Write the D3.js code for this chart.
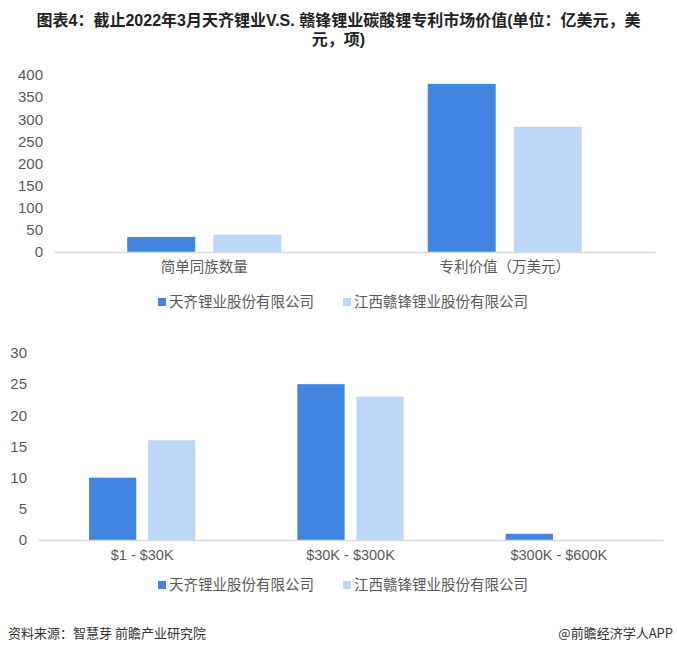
<!DOCTYPE html>
<html>
<head>
<meta charset="utf-8">
<script src="https://cdn.jsdelivr.net/npm/d3@7"></script>
<style>
  body { margin: 0; background: #fff; }
  svg text { font-family: "Liberation Sans", "Noto Sans CJK SC", sans-serif; }
</style>
</head>
<body>
<div id="chart"></div>
<script>
// data
var series = ["天齐锂业股份有限公司", "江西赣锋锂业股份有限公司"]
var topCats = ["简单同族数量", "专利价值（万美元）"]
var topTianqi = [34, 380]
var topGanfeng = [39, 283]
var topTicks = [0, 50, 100, 150, 200, 250, 300, 350, 400]

var botCats = ["$1 - $30K", "$30K - $300K", "$300K - $600K"]
var botTianqi = [10, 25, 1]
var botGanfeng = [16, 23, 0]
var botTicks = [0, 5, 10, 15, 20, 25, 30]

var titleLines = ["图表4：截止2022年3月天齐锂业V.S. 赣锋锂业碳酸锂专利市场价值(单位：亿美元，美", "元，项)"]
var sourceText = "资料来源：智慧芽 前瞻产业研究院"
var brandText = "@前瞻经济学人APP"

var colors = ["#4286e2", "#bcd7f9"]
var width = 677, height = 654
var textColor = "#595959"

var svg = d3.select("#chart")
  .append("svg")
  .attr("width", width)
  .attr("height", height)

// title, two lines
svg.append("g")
  .selectAll("text")
  .data(titleLines)
  .enter()
  .append("text")
  .attr("x", width / 2)
  .attr("y", (d, i) => 26 + i * 18.5)
  .attr("text-anchor", "middle")
  .style("font-family", "'Liberation Sans', 'Noto Sans CJK SC', sans-serif")
  .style("font-weight", "bold")
  .style("font-size", "16px")
  .style("fill", "#222")
  .text(d => d)

function drawChart(opt) {
  var rows = opt.cats.map((c, i) => ({ cat: c, vals: [opt.a[i], opt.b[i]] }))

  var x0 = d3.scaleBand()
    .domain(opt.cats)
    .range([opt.left, opt.right])
    .padding(0)

  var x1 = d3.scaleBand()
    .domain([0, 1])
    .range([0, x0.bandwidth()])
    .paddingInner(opt.pin)
    .paddingOuter(opt.pout)

  var y = d3.scaleLinear()
    .domain([0, opt.max])
    .range([opt.bottom, opt.top])

  // Y axis labels
  var yAxis = d3.axisLeft(y)
    .tickValues(opt.ticks)
    .tickSize(0)
    .tickPadding(11)

  svg.append("g")
    .attr("transform", `translate(${opt.left},0)`)
    .call(yAxis)
    .call(g => g.select(".domain").remove())
    .selectAll("text")
    .style("font-size", "15px")
    .style("fill", textColor)

  // bars
  var groups = svg.append("g")
    .selectAll("g")
    .data(rows)
    .enter()
    .append("g")
    .attr("transform", d => `translate(${x0(d.cat)},0)`)

  groups.selectAll("rect")
    .data(d => d.vals.map((v, i) => ({ v: v, i: i })))
    .enter()
    .append("rect")
    .attr("x", d => x1(d.i))
    .attr("width", x1.bandwidth())
    .attr("y", d => y(d.v))
    .attr("height", d => y(0) - y(d.v))
    .style("fill", d => colors[d.i])

  // X axis
  var xAxis = d3.axisBottom(x0)
    .tickSize(0)
    .tickPadding(10)

  svg.append("g")
    .attr("transform", `translate(0,${opt.bottom})`)
    .call(xAxis)
    .call(g => g.select(".domain").attr("stroke", "#d9d9d9").attr("stroke-width", 1.3))
    .selectAll("text")
    .style("font-size", "14.5px")
    .style("fill", textColor)

  // legend
  var legend = svg.append("g")
    .attr("transform", `translate(0,${opt.legendY})`)

  var lx = [158, 343]
  series.forEach((s, i) => {
    legend.append("rect")
      .attr("x", lx[i])
      .attr("y", -4)
      .attr("width", 8)
      .attr("height", 8)
      .style("fill", colors[i])
    legend.append("text")
      .attr("x", lx[i] + 11)
      .attr("y", 0)
      .attr("dy", "0.35em")
      .style("font-family", "'Noto Sans CJK SC', sans-serif")
      .style("font-size", "14.5px")
      .style("fill", textColor)
      .text(s)
  })
}

drawChart({
  cats: topCats, a: topTianqi, b: topGanfeng, ticks: topTicks, max: 400,
  left: 54, right: 655, top: 75, bottom: 252,
  pin: 0.21, pout: 0.85, legendY: 302
})

drawChart({
  cats: botCats, a: botTianqi, b: botGanfeng, ticks: botTicks, max: 30,
  left: 38, right: 663, top: 353, bottom: 540,
  pin: 0.2, pout: 0.865, legendY: 585
})

// footer
svg.append("text")
  .attr("x", 8)
  .attr("y", 638)
  .style("font-family", "'Noto Sans CJK SC', sans-serif")
  .style("font-size", "13px")
  .style("fill", "#333")
  .text(sourceText)

svg.append("text")
  .attr("x", 673)
  .attr("y", 638)
  .attr("text-anchor", "end")
  .style("font-family", "'Noto Sans CJK SC', sans-serif")
  .style("font-size", "13px")
  .style("fill", "#333")
  .text(brandText)
</script>
</body>
</html>
